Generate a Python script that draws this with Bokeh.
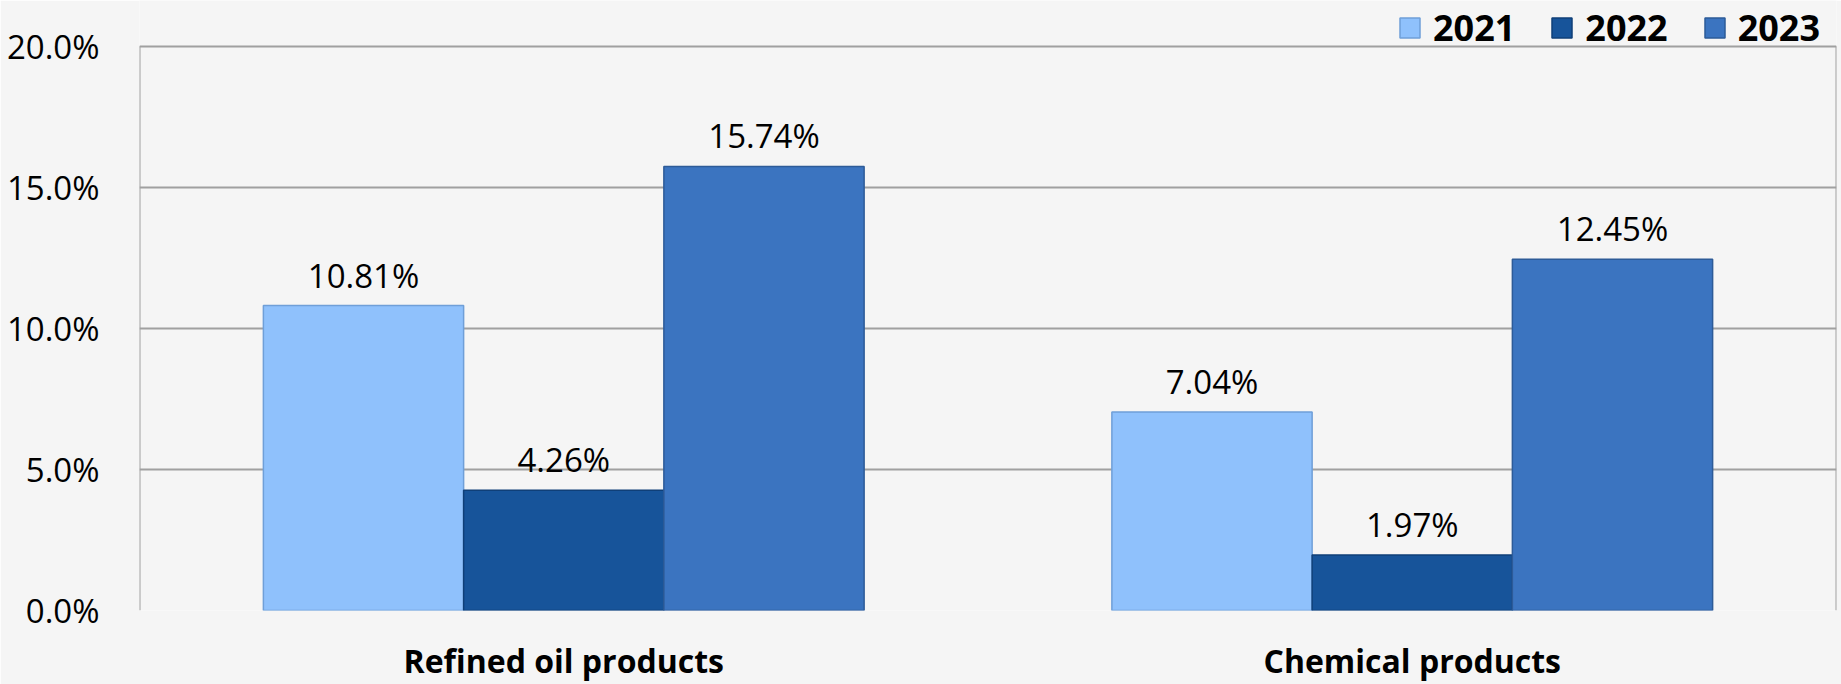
from bokeh.plotting import figure
from bokeh.models import ColumnDataSource, FactorRange, Legend, LegendItem, PrintfTickFormatter, FixedTicker, LabelSet
from bokeh.transform import dodge
from bokeh.embed import file_html
from bokeh.resources import INLINE
from bokeh.core.properties import value

categories = ["Refined oil products", "Chemical products"]
years = ["2021", "2022", "2023"]
v2021 = [10.81, 7.04]
v2022 = [4.26, 1.97]
v2023 = [15.74, 12.45]
y_ticks = [0, 5, 10, 15, 20]

colors = ["#8fc1fc", "#17549a", "#3b74c0"]
edges = ["#6f9fd8", "#0f3f78", "#2d5b98"]
bar_w = 0.236
offsets = [-bar_w, 0.0, bar_w]

H, TOP, BOTTOM = 684, 46, 71
frame_h = H - BOTTOM
y_max = y_ticks[-1]
y_top = y_max * frame_h / (frame_h - TOP)   # extra headroom above 20% for the legend

src = ColumnDataSource(dict(cat=categories, y2021=v2021, y2022=v2022, y2023=v2023,
                            l2021=[f"{v:.2f}%" for v in v2021],
                            l2022=[f"{v:.2f}%" for v in v2022],
                            l2023=[f"{v:.2f}%" for v in v2023]))

p = figure(x_range=FactorRange(factors=categories, range_padding=0), y_range=(0, y_top),
           width=1841, height=H, output_backend="svg", toolbar_location=None,
           min_border_left=139, min_border_right=5, min_border_top=0, min_border_bottom=BOTTOM)
p.background_fill_color = "#f5f5f5"
p.border_fill_color = "#f5f5f5"
p.outline_line_color = None

p.xgrid.grid_line_color = None
p.ygrid.grid_line_color = "#a0a0a0"
p.ygrid.grid_line_width = 2

# left and right borders of the plot box (0..20%)
n = len(categories)
p.segment(x0=[0, n], y0=[0, 0], x1=[0, n], y1=[y_max, y_max], line_color="#a0a0a0", line_width=2)

renderers = []
for yr, off, c, ec in zip(years, offsets, colors, edges):
    r = p.vbar(x=dodge("cat", off, range=p.x_range), top="y" + yr, width=bar_w, source=src,
               fill_color=c, line_color=ec, line_width=1.5)
    renderers.append(r)
    labels = LabelSet(x=dodge("cat", off, range=p.x_range), y="y" + yr, text="l" + yr, source=src,
                      text_align="center", text_baseline="alphabetic", y_offset=18,
                      text_font=value("Open Sans"), text_font_size="33px", text_color="#000000")
    p.add_layout(labels)

p.yaxis.ticker = FixedTicker(ticks=y_ticks)
p.yaxis.formatter = PrintfTickFormatter(format="%.1f%%")
p.yaxis.axis_line_color = None
p.yaxis.major_tick_line_color = None
p.yaxis.minor_tick_line_color = None
p.yaxis.major_label_text_font = "Open Sans"
p.yaxis.major_label_text_font_size = "33px"
p.yaxis.major_label_text_color = "#000000"
p.yaxis.major_label_standoff = 34

p.xaxis.axis_line_color = None
p.xaxis.major_tick_line_color = None
p.xaxis.major_label_text_font = "Open Sans"
p.xaxis.major_label_text_font_style = "bold"
p.xaxis.major_label_text_font_size = "32px"
p.xaxis.major_label_text_color = "#000000"
p.xaxis.major_label_standoff = 22

legend = Legend(items=[LegendItem(label=yr, renderers=[r]) for yr, r in zip(years, renderers)],
                orientation="horizontal", location=(1258, frame_h - 55),
                label_text_font="Open Sans", label_text_font_style="bold",
                label_text_font_size="36px", label_text_color="#000000",
                glyph_width=25, glyph_height=25, label_standoff=11, spacing=34,
                padding=0, margin=0, border_line_color=None, background_fill_alpha=0)
p.add_layout(legend, "center")

open("out.html", "w").write(file_html(p, INLINE))
